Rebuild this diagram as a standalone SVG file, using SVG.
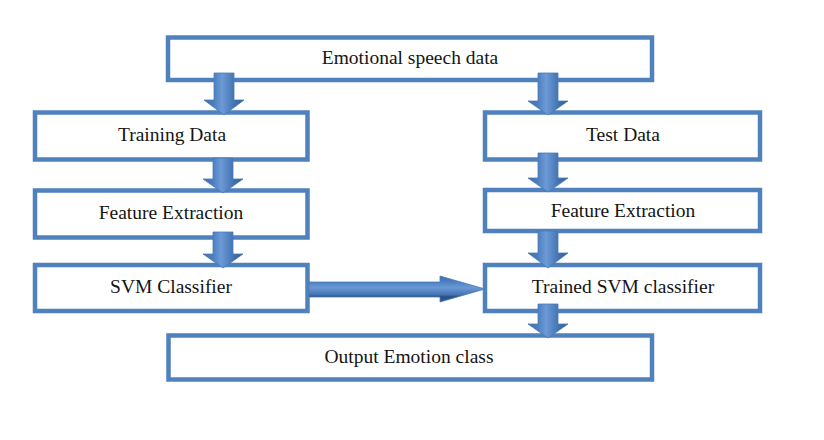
<svg xmlns="http://www.w3.org/2000/svg" width="824" height="440" viewBox="0 0 824 440">
  <defs>
    <linearGradient id="gv" x1="0" y1="0" x2="1" y2="0">
      <stop offset="0" stop-color="#3d6ca9"/>
      <stop offset="0.25" stop-color="#4d7fc0"/>
      <stop offset="0.45" stop-color="#6c9ad6"/>
      <stop offset="0.75" stop-color="#4574b3"/>
      <stop offset="1" stop-color="#2f5a92"/>
    </linearGradient>
    <linearGradient id="gh" x1="0" y1="0" x2="0" y2="1">
      <stop offset="0" stop-color="#3d6ca9"/>
      <stop offset="0.25" stop-color="#5083c4"/>
      <stop offset="0.45" stop-color="#6a98d4"/>
      <stop offset="0.72" stop-color="#4574b3"/>
      <stop offset="0.8" stop-color="#2a4f80"/>
      <stop offset="1" stop-color="#2f5a92"/>
    </linearGradient>
    <style>
      .box { fill: #ffffff; stroke: #4f81bd; stroke-width: 4.5; }
      .lbl { font-family: "Liberation Serif", "Times New Roman", serif; font-size: 19.5px; fill: #141414; text-anchor: middle; }
      .av { fill: url(#gv); stroke: #4a7bb8; stroke-width: 0.8; }
      .ah { fill: url(#gh); stroke: #4a7bb8; stroke-width: 0.8; }
    </style>
  </defs>
  <rect width="824" height="440" fill="#ffffff"/>

  <g id="n-emotional">
    <rect class="box" x="168" y="37.5" width="484" height="42.5"/>
    <text class="lbl" x="410" y="64">Emotional speech data</text>
  </g>
  <g id="n-training">
    <rect class="box" x="35" y="112.5" width="272.5" height="47"/>
    <text class="lbl" x="172" y="141">Training Data</text>
  </g>
  <g id="n-feature-left">
    <rect class="box" x="35" y="190.5" width="272.5" height="47"/>
    <text class="lbl" x="171" y="218.5">Feature Extraction</text>
  </g>
  <g id="n-svm">
    <rect class="box" x="35" y="265" width="272.5" height="46"/>
    <text class="lbl" x="171" y="293">SVM Classifier</text>
  </g>
  <g id="n-test">
    <rect class="box" x="485" y="112.5" width="275" height="47"/>
    <text class="lbl" x="623" y="140.5">Test Data</text>
  </g>
  <g id="n-feature-right">
    <rect class="box" x="485" y="190" width="275" height="41"/>
    <text class="lbl" x="623" y="217">Feature Extraction</text>
  </g>
  <g id="n-trained">
    <rect class="box" x="485" y="265" width="275" height="46"/>
    <text class="lbl" x="623" y="293">Trained SVM classifier</text>
  </g>
  <g id="n-output">
    <rect class="box" x="168.5" y="335.5" width="483.5" height="44"/>
    <text class="lbl" x="409" y="363">Output Emotion class</text>
  </g>

  <g id="connectors">
    <polygon class="av" points="214,73 234,73 234,100 244,100 224,115 204,100 214,100"/>
    <polygon class="av" points="538,73 558,73 558,101 568,101 548,115 528,101 538,101"/>
    <polygon class="av" points="213,158 233,158 233,179 243,179 223,193 203,179 213,179"/>
    <polygon class="av" points="538,153 558,153 558,178 568,178 548,192 528,178 538,178"/>
    <polygon class="av" points="213,232 233,232 233,254 243,254 223,268 203,254 213,254"/>
    <polygon class="av" points="538,231 558,231 558,253 568,253 548,268 528,253 538,253"/>
    <polygon class="av" points="538,304 558,304 558,324 568,324 548,338 528,324 538,324"/>
    <polygon class="ah" points="309,282 440,282 440,276 485,289 440,302 440,297 309,297"/>
  </g>
</svg>
